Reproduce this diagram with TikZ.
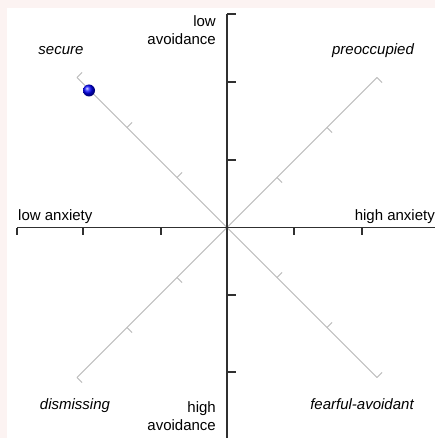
\documentclass[tikz,border=0pt]{standalone}
\usepackage{fontspec}
\setmainfont{Liberation Sans}
\usetikzlibrary{calc}

\definecolor{edgepink}{HTML}{FCF3F2}
\definecolor{axisgray}{HTML}{303030}
\definecolor{diaggray}{HTML}{B8B8B8}

\begin{document}
\begin{tikzpicture}[
  x=1pt, y=-1pt,
  font=\fontsize{15}{18}\selectfont,
  axis/.style={draw=axisgray, line width=1.4pt},
  diag/.style={draw=diaggray, line width=0.9pt},
  pole/.style={inner sep=0pt, align=right},
  quad/.style={inner sep=0pt, anchor=base, font=\fontsize{15}{18}\selectfont\itshape}
]

% page and its faint edge
\fill[edgepink] (0,0) rectangle (435,438);
\fill[white] (7,8) rectangle (435,438);
\useasboundingbox (0,0) rectangle (435,438);

\coordinate (o) at (227,227.5);
\coordinate (ytop) at (227,14);
\coordinate (ybot) at (227,438);
\coordinate (xlft) at (17,227.5);
\coordinate (xrgt) at (435,227.5);

% diagonals with their ticks
\foreach \sx/\sy/\tx/\ty in {-1/-1/1/-1, 1/-1/1/1, -1/1/1/1, 1/1/1/-1}{
  \draw[diag] (o) -- ($(o)+(\sx*150,\sy*150)$);
  \foreach \d in {50,100,150}
    \draw[diag] ($(o)+(\sx*\d,\sy*\d)$) -- ++(\tx*5,\ty*5);
}

% axes
\draw[axis] (ytop) -- (ybot);
\draw[axis] (xlft) -- (xrgt);
\foreach \yy in {14,82,160,295,372}
  \draw[axis] (227,\yy) -- ++(9,0);
\foreach \xx in {17,83,161,294,362}
  \draw[axis] (\xx,227.5) -- ++(0,7);

% pole labels (base = last line)
\node[pole, anchor=base east] (lowavd) at (216,45) {low\\avoidance};
\node[pole, anchor=base east] (highavd) at (216,430) {high\\avoidance};
\node[inner sep=0pt, anchor=base west] (lowanx) at (18,220) {low anxiety};
\node[inner sep=0pt, anchor=base east] (highanx) at (435,220) {high anxiety};

% styles
\node[quad] (secure) at (61,55) {secure};
\node[quad] (preocc) at (373,55) {preoccupied};
\node[quad] (dismiss) at (75,409) {dismissing};
\node[quad] (fearful) at (362,409) {fearful-avoidant};

% score
\shade[ball color=blue] (89,90.5) circle (6);

\end{tikzpicture}
\end{document}
